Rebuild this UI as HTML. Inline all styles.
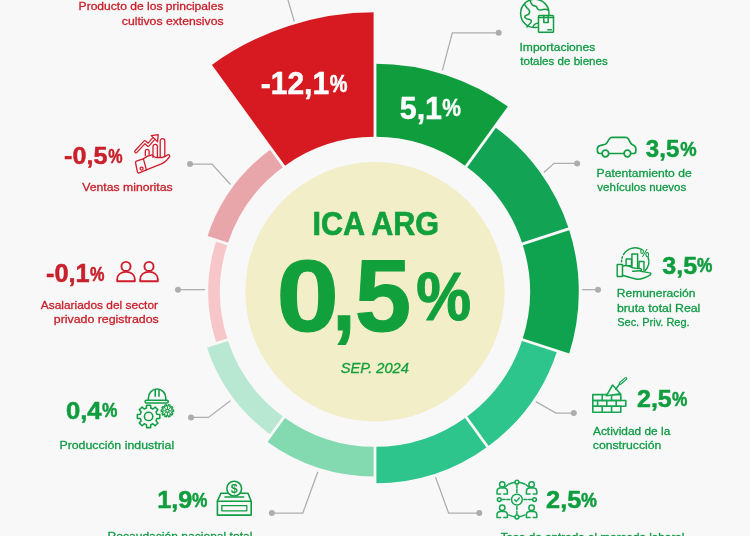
<!DOCTYPE html>
<html lang="es"><head><meta charset="utf-8"><title>ICA ARG</title>
<style>
html,body{margin:0;padding:0;background:#f8f8f8;}
body{width:750px;height:536px;overflow:hidden;}
svg{display:block;font-family:"Liberation Sans", "DejaVu Sans", sans-serif;}
</style></head><body>
<svg width="750" height="536" viewBox="0 0 750 536">
<rect width="750" height="536" fill="#f8f8f8"/>
<circle cx="375.0" cy="291.8" r="129.7" fill="#f2eec8"/>
<path d="M375.00 136.80L375.00 63.80A228 228 0 0 1 509.02 107.34L466.11 166.40A155.0 155.0 0 0 0 375.00 136.80Z" fill="#0f9d3e"/>
<path d="M466.11 166.40L494.79 126.92A203.8 203.8 0 0 1 568.83 228.82L522.41 243.90A155.0 155.0 0 0 0 466.11 166.40Z" fill="#12a454"/>
<path d="M522.41 243.90L568.83 228.82A203.8 203.8 0 0 1 568.83 354.78L522.41 339.70A155.0 155.0 0 0 0 522.41 243.90Z" fill="#0fa24f"/>
<path d="M522.41 339.70L557.13 350.98A191.5 191.5 0 0 1 487.56 446.73L466.11 417.20A155.0 155.0 0 0 0 522.41 339.70Z" fill="#2dc58b"/>
<path d="M466.11 417.20L487.56 446.73A191.5 191.5 0 0 1 375.00 483.30L375.00 446.80A155.0 155.0 0 0 0 466.11 417.20Z" fill="#2dc58b"/>
<path d="M375.00 446.80L375.00 476.40A184.6 184.6 0 0 1 266.49 441.14L283.89 417.20A155.0 155.0 0 0 0 375.00 446.80Z" fill="#83d9b0"/>
<path d="M283.89 417.20L270.96 435.00A177 177 0 0 1 206.66 346.50L227.59 339.70A155.0 155.0 0 0 0 283.89 417.20Z" fill="#b8e8d2"/>
<path d="M227.59 339.70L216.46 343.31A166.7 166.7 0 0 1 216.46 240.29L227.59 243.90A155.0 155.0 0 0 0 227.59 339.70Z" fill="#f7c6c9"/>
<path d="M227.59 243.90L207.14 237.26A176.5 176.5 0 0 1 271.26 149.01L283.89 166.40A155.0 155.0 0 0 0 227.59 243.90Z" fill="#e8a6aa"/>
<path d="M283.89 166.40L210.71 65.68A279.5 279.5 0 0 1 375.00 12.30L375.00 136.80A155.0 155.0 0 0 0 283.89 166.40Z" fill="#d71a21"/>
<line x1="375.00" y1="139.80" x2="375.00" y2="1.80" stroke="#f8f8f8" stroke-width="2.8"/>
<line x1="464.34" y1="168.83" x2="545.46" y2="57.19" stroke="#f8f8f8" stroke-width="2.8"/>
<line x1="519.56" y1="244.83" x2="650.81" y2="202.19" stroke="#f8f8f8" stroke-width="2.8"/>
<line x1="519.56" y1="338.77" x2="650.81" y2="381.41" stroke="#f8f8f8" stroke-width="2.8"/>
<line x1="464.34" y1="414.77" x2="545.46" y2="526.41" stroke="#f8f8f8" stroke-width="2.8"/>
<line x1="375.00" y1="443.80" x2="375.00" y2="581.80" stroke="#f8f8f8" stroke-width="2.8"/>
<line x1="285.66" y1="414.77" x2="204.54" y2="526.41" stroke="#f8f8f8" stroke-width="2.8"/>
<line x1="230.44" y1="338.77" x2="99.19" y2="381.41" stroke="#f8f8f8" stroke-width="2.8"/>
<line x1="230.44" y1="244.83" x2="99.19" y2="202.19" stroke="#f8f8f8" stroke-width="2.8"/>
<line x1="285.66" y1="168.83" x2="204.54" y2="57.19" stroke="#f8f8f8" stroke-width="2.8"/>
<path d="M288 0L294.3 21.5" fill="none" stroke="#adadad" stroke-width="1.25"/>
<path d="M190 164L212 164L230.5 184.5" fill="none" stroke="#adadad" stroke-width="1.25"/><circle cx="190" cy="164" r="3" fill="#adadad"/>
<path d="M178 289.7L205 289.7" fill="none" stroke="#adadad" stroke-width="1.25"/><circle cx="178" cy="289.7" r="3" fill="#adadad"/>
<path d="M191 417.4L208.4 417.4L230.4 400.8" fill="none" stroke="#adadad" stroke-width="1.25"/><circle cx="191" cy="417.4" r="3" fill="#adadad"/>
<path d="M271.9 513.1L302.8 513.1L317.8 471.7" fill="none" stroke="#adadad" stroke-width="1.25"/><circle cx="271.9" cy="513.1" r="3" fill="#adadad"/>
<path d="M498.7 32.8L452.3 32.8L442.4 70.4" fill="none" stroke="#adadad" stroke-width="1.25"/><circle cx="498.7" cy="32.8" r="3" fill="#adadad"/>
<path d="M577.1 163.4L554 163.4L543.8 172.5" fill="none" stroke="#adadad" stroke-width="1.25"/><circle cx="577.1" cy="163.4" r="3" fill="#adadad"/>
<path d="M598 289.7L582 289.7" fill="none" stroke="#adadad" stroke-width="1.25"/><circle cx="598" cy="289.7" r="3" fill="#adadad"/>
<path d="M573.8 413L556 413L535.8 401.6" fill="none" stroke="#adadad" stroke-width="1.25"/><circle cx="573.8" cy="413" r="3" fill="#adadad"/>
<path d="M479.3 513.1L448.6 513.1L435.6 477.3" fill="none" stroke="#adadad" stroke-width="1.25"/><circle cx="479.3" cy="513.1" r="3" fill="#adadad"/>
<text transform="translate(78.60 10.20) scale(1.0412 1)" font-size="11.60" font-weight="normal" font-style="normal" fill="#c9202b" stroke="#c9202b" stroke-width="0.3" stroke-linejoin="round">Producto de los principales</text>
<text transform="translate(121.78 25.20) scale(1.0531 1)" font-size="11.60" font-weight="normal" font-style="normal" fill="#c9202b" stroke="#c9202b" stroke-width="0.3" stroke-linejoin="round">cultivos extensivos</text>
<text transform="translate(82.24 190.50) scale(1.0552 1)" font-size="11.60" font-weight="normal" font-style="normal" fill="#c9202b" stroke="#c9202b" stroke-width="0.3" stroke-linejoin="round">Ventas minoritas</text>
<text transform="translate(40.77 308.60) scale(1.0289 1)" font-size="11.60" font-weight="normal" font-style="normal" fill="#c9202b" stroke="#c9202b" stroke-width="0.3" stroke-linejoin="round">Asalariados del sector</text>
<text transform="translate(53.80 323.00) scale(1.0646 1)" font-size="11.60" font-weight="normal" font-style="normal" fill="#c9202b" stroke="#c9202b" stroke-width="0.3" stroke-linejoin="round">privado registrados</text>
<text transform="translate(59.38 449.30) scale(1.0667 1)" font-size="11.60" font-weight="normal" font-style="normal" fill="#109b45" stroke="#109b45" stroke-width="0.3" stroke-linejoin="round">Producción industrial</text>
<text transform="translate(107.50 540.20) scale(1.0416 1)" font-size="11.60" font-weight="normal" font-style="normal" fill="#109b45" stroke="#109b45" stroke-width="0.3" stroke-linejoin="round">Recaudación nacional total</text>
<text transform="translate(519.48 50.80) scale(1.0425 1)" font-size="11.60" font-weight="normal" font-style="normal" fill="#109b45" stroke="#109b45" stroke-width="0.3" stroke-linejoin="round">Importaciones</text>
<text transform="translate(520.23 65.10) scale(0.9995 1)" font-size="11.60" font-weight="normal" font-style="normal" fill="#109b45" stroke="#109b45" stroke-width="0.3" stroke-linejoin="round">totales de bienes</text>
<text transform="translate(596.60 176.90) scale(1.0462 1)" font-size="11.60" font-weight="normal" font-style="normal" fill="#109b45" stroke="#109b45" stroke-width="0.3" stroke-linejoin="round">Patentamiento de</text>
<text transform="translate(597.34 191.40) scale(0.9936 1)" font-size="11.60" font-weight="normal" font-style="normal" fill="#109b45" stroke="#109b45" stroke-width="0.3" stroke-linejoin="round">vehículos nuevos</text>
<text transform="translate(616.70 297.30) scale(1.0445 1)" font-size="11.60" font-weight="normal" font-style="normal" fill="#109b45" stroke="#109b45" stroke-width="0.3" stroke-linejoin="round">Remuneración</text>
<text transform="translate(616.90 311.60) scale(1.0617 1)" font-size="11.60" font-weight="normal" font-style="normal" fill="#109b45" stroke="#109b45" stroke-width="0.3" stroke-linejoin="round">bruta total Real</text>
<text transform="translate(617.21 325.70) scale(0.9475 1)" font-size="11.60" font-weight="normal" font-style="normal" fill="#109b45" stroke="#109b45" stroke-width="0.3" stroke-linejoin="round">Sec. Priv. Reg.</text>
<text transform="translate(592.97 435.30) scale(1.0252 1)" font-size="11.60" font-weight="normal" font-style="normal" fill="#109b45" stroke="#109b45" stroke-width="0.3" stroke-linejoin="round">Actividad de la</text>
<text transform="translate(592.78 449.40) scale(1.0539 1)" font-size="11.60" font-weight="normal" font-style="normal" fill="#109b45" stroke="#109b45" stroke-width="0.3" stroke-linejoin="round">construcción</text>
<text transform="translate(500.64 540.50) scale(1.0115 1)" font-size="11.60" font-weight="normal" font-style="normal" fill="#109b45" stroke="#109b45" stroke-width="0.3" stroke-linejoin="round">Tasa de entrada al mercado laboral</text>
<text font-weight="bold" font-style="normal" fill="#c9202b" stroke="#c9202b" stroke-width="0.5" stroke-linejoin="round"><tspan x="64.09" y="164.00" font-size="24.47" textLength="43.31" lengthAdjust="spacingAndGlyphs">-0,5</tspan><tspan x="108.20" y="162.50" font-size="20.36" textLength="14.33" lengthAdjust="spacingAndGlyphs">%</tspan></text>
<text font-weight="bold" font-style="normal" fill="#c9202b" stroke="#c9202b" stroke-width="0.5" stroke-linejoin="round"><tspan x="45.98" y="282.40" font-size="24.89" textLength="43.73" lengthAdjust="spacingAndGlyphs">-0,1</tspan><tspan x="89.99" y="280.89" font-size="20.78" textLength="14.44" lengthAdjust="spacingAndGlyphs">%</tspan></text>
<text font-weight="bold" font-style="normal" fill="#0f9d3e" stroke="#0f9d3e" stroke-width="0.5" stroke-linejoin="round"><tspan x="65.97" y="418.60" font-size="23.90" textLength="35.66" lengthAdjust="spacingAndGlyphs">0,4</tspan><tspan x="102.07" y="417.10" font-size="19.79" textLength="15.39" lengthAdjust="spacingAndGlyphs">%</tspan></text>
<text font-weight="bold" font-style="normal" fill="#0f9d3e" stroke="#0f9d3e" stroke-width="0.5" stroke-linejoin="round"><tspan x="157.32" y="508.20" font-size="24.04" textLength="35.06" lengthAdjust="spacingAndGlyphs">1,9</tspan><tspan x="192.07" y="506.70" font-size="19.93" textLength="15.39" lengthAdjust="spacingAndGlyphs">%</tspan></text>
<text font-weight="bold" font-style="normal" fill="#0f9d3e" stroke="#0f9d3e" stroke-width="0.5" stroke-linejoin="round"><tspan x="645.86" y="157.20" font-size="24.32" textLength="33.41" lengthAdjust="spacingAndGlyphs">3,5</tspan><tspan x="680.14" y="155.70" font-size="20.21" textLength="16.35" lengthAdjust="spacingAndGlyphs">%</tspan></text>
<text font-weight="bold" font-style="normal" fill="#0f9d3e" stroke="#0f9d3e" stroke-width="0.5" stroke-linejoin="round"><tspan x="662.34" y="273.60" font-size="24.47" textLength="34.86" lengthAdjust="spacingAndGlyphs">3,5</tspan><tspan x="697.07" y="272.10" font-size="20.36" textLength="15.39" lengthAdjust="spacingAndGlyphs">%</tspan></text>
<text font-weight="bold" font-style="normal" fill="#0f9d3e" stroke="#0f9d3e" stroke-width="0.5" stroke-linejoin="round"><tspan x="637.02" y="407.40" font-size="24.18" textLength="34.77" lengthAdjust="spacingAndGlyphs">2,5</tspan><tspan x="672.07" y="405.90" font-size="20.07" textLength="15.39" lengthAdjust="spacingAndGlyphs">%</tspan></text>
<text font-weight="bold" font-style="normal" fill="#0f9d3e" stroke="#0f9d3e" stroke-width="0.5" stroke-linejoin="round"><tspan x="546.11" y="508.30" font-size="24.61" textLength="35.19" lengthAdjust="spacingAndGlyphs">2,5</tspan><tspan x="581.05" y="506.80" font-size="20.50" textLength="15.93" lengthAdjust="spacingAndGlyphs">%</tspan></text>
<text font-weight="bold" font-style="normal" fill="#ffffff" stroke="#ffffff" stroke-width="0.55" stroke-linejoin="round"><tspan x="260.70" y="94.00" font-size="31.01" textLength="68.48" lengthAdjust="spacingAndGlyphs">-12,1</tspan><tspan x="329.80" y="91.57" font-size="24.34" textLength="17.73" lengthAdjust="spacingAndGlyphs">%</tspan></text>
<text font-weight="bold" font-style="normal" fill="#ffffff" stroke="#ffffff" stroke-width="0.45" stroke-linejoin="round"><tspan x="399.71" y="119.00" font-size="31.29" textLength="42.33" lengthAdjust="spacingAndGlyphs">5,1</tspan><tspan x="442.27" y="116.37" font-size="24.34" textLength="18.69" lengthAdjust="spacingAndGlyphs">%</tspan></text>
<text transform="translate(312.44 235.20) scale(0.9332 1)" font-size="32.73" font-weight="bold" font-style="normal" fill="#12a03c" stroke="#12a03c" stroke-width="0.7" stroke-linejoin="round">ICA ARG</text>
<text font-weight="bold" font-style="normal" fill="#12a03c" stroke="#12a03c" stroke-width="1.15" stroke-linejoin="round"><tspan x="276.41" y="330.59" font-size="101.34" textLength="62.41" lengthAdjust="spacingAndGlyphs">0</tspan><tspan x="332.55" y="330.16" font-size="94.43" textLength="22.82" lengthAdjust="spacingAndGlyphs">,</tspan><tspan x="354.70" y="330.58" font-size="101.65" textLength="56.40" lengthAdjust="spacingAndGlyphs">5</tspan><tspan x="416.26" y="320.09" font-size="68.33" textLength="54.78" lengthAdjust="spacingAndGlyphs">%</tspan></text>
<text transform="translate(340.80 372.60) scale(0.9766 1)" font-size="15.00" font-weight="normal" font-style="italic" fill="#12a03c" stroke="#12a03c" stroke-width="0.3" stroke-linejoin="round">SEP. 2024</text>
<g fill="none" stroke="#cf1d2b" stroke-width="1.3" stroke-linejoin="round" stroke-linecap="round">
<path d="M136 151.6L144.8 142L148.2 145L153.6 138.8" stroke-width="3.7"/>
<path d="M136 151.6L144.8 142L148.2 145L153.6 138.8" stroke="#f8f8f8" stroke-width="1.3"/>
<path d="M151.2 135.6L158.2 134.6L157.6 141.8Z" fill="#f8f8f8"/>
<path d="M145.3 155.6V151.2a1.9 1.9 0 0 1 3.8 0V154.6"/>
<path d="M153 157.4V146.6a2.2 2.2 0 0 1 4.4 0V157.4"/>
<path d="M160.2 157.4V141a2.3 2.3 0 0 1 4.6 0V156.6"/>
<path d="M136.3 161.2L143.4 158.8L146.4 169.9L139.3 172.9Q137.8 173.3 137.4 171.8L135.6 163Q135.4 161.6 136.3 161.2Z"/>
<circle cx="141.6" cy="168.6" r="1.5"/>
<path d="M143.4 158.8Q147.5 155.2 152.4 154.8Q153.8 157.4 156 157.5L162 157.5Q165.6 156.6 167.8 154.8Q170 154.2 169.6 156.6Q166 162 160.8 164.2L146.4 169.9"/>
</g>
<g fill="none" stroke="#cf1d2b" stroke-width="1.9" stroke-linejoin="round">
<circle cx="126.0" cy="266.4" r="4.55"/>
<path d="M117.2 281.2V279.6C117.2 274.6 121.0 271.9 126.0 271.9C131.0 271.9 134.8 274.6 134.8 279.6V281.2Z"/>
<circle cx="149.0" cy="266.4" r="4.55"/>
<path d="M140.2 281.2V279.6C140.2 274.6 144.0 271.9 149.0 271.9C154.0 271.9 157.8 274.6 157.8 279.6V281.2Z"/>
</g>
<g fill="none" stroke="#129d43" stroke-width="1.55" stroke-linejoin="round" stroke-linecap="round">
<path d="M148.4 400.2V398A8.7 9 0 0 1 165.8 398V400.2"/>
<rect x="145.2" y="400.2" width="23" height="2.8" rx="1"/>
<path d="M155.2 389.6V396.2M159 389.6V396.2"/>
<path d="M156.92 414.23L159.83 414.43L159.83 418.37L156.92 418.57L156.02 420.75L157.93 422.95L155.15 425.73L152.95 423.82L150.77 424.72L150.57 427.63L146.63 427.63L146.43 424.72L144.25 423.82L142.05 425.73L139.27 422.95L141.18 420.75L140.28 418.57L137.37 418.37L137.37 414.43L140.28 414.23L141.18 412.05L139.27 409.85L142.05 407.07L144.25 408.98L146.43 408.08L146.63 405.17L150.57 405.17L150.77 408.08L152.95 408.98L155.15 407.07L157.93 409.85L156.02 412.05Z" fill="#f8f8f8"/>
<circle cx="148.6" cy="416.4" r="4.2"/>
<path d="M172.01 409.88L173.54 409.97L173.54 411.63L172.01 411.72L171.67 412.77L172.86 413.74L171.89 415.08L170.59 414.25L169.70 414.90L170.08 416.39L168.51 416.90L167.95 415.47L166.85 415.47L166.29 416.90L164.72 416.39L165.10 414.90L164.21 414.25L162.91 415.08L161.94 413.74L163.13 412.77L162.79 411.72L161.26 411.63L161.26 409.97L162.79 409.88L163.13 408.83L161.94 407.86L162.91 406.52L164.21 407.35L165.10 406.70L164.72 405.21L166.29 404.70L166.85 406.13L167.95 406.13L168.51 404.70L170.08 405.21L169.70 406.70L170.59 407.35L171.89 406.52L172.86 407.86L171.67 408.83Z" fill="#f8f8f8" stroke-width="1.3"/>
<circle cx="167.4" cy="410.8" r="1.6" stroke-width="1.1"/>
<path d="M169.40 410.80L171.40 410.80M168.81 412.21L170.23 413.63M167.40 412.80L167.40 414.80M165.99 412.21L164.57 413.63M165.40 410.80L163.40 410.80M165.99 409.39L164.57 407.97M167.40 408.80L167.40 406.80M168.81 409.39L170.23 407.97" stroke-width="1.0"/>
</g>
<g fill="none" stroke="#129d43" stroke-width="1.6" stroke-linejoin="round" stroke-linecap="round">
<path d="M217.4 501.2L221 493.2H248L251.2 501.2"/>
<rect x="217.4" y="501.2" width="33.8" height="13.9"/>
<rect x="221.8" y="505.6" width="25" height="5.2" stroke-width="1.3"/>
<circle cx="234.2" cy="488.6" r="7.4" fill="#f8f8f8"/>
<path d="M225 497H243.6"/>
</g>
<text x="234.2" y="493" font-size="12.5" font-weight="bold" fill="#129d43" text-anchor="middle">$</text>
<g fill="none" stroke="#129d43" stroke-width="1.5" stroke-linejoin="round" stroke-linecap="round">
<circle cx="534.8" cy="13.4" r="14.2"/>
<path d="M530 0Q530.6 4 533.6 5.8Q536.6 5.6 537.4 8.6Q538.6 10.6 541.6 9.8Q545.6 8.6 548.6 10.4"/>
<path d="M524.6 4.4Q526.4 8 529 9.8Q530.6 12.4 528.4 14.4Q524.4 15.4 524.8 17.4Q526 19.2 529.6 19.4Q532.6 20.4 530.6 23Q528.4 24.6 527 27"/>
<path d="M533 27.4Q533.4 23.6 538 23.2"/>
<rect x="538.5" y="15.4" width="15" height="16.9" rx="0.8" fill="#f8f8f8"/>
<path d="M538.5 17.6H553.5"/>
<path d="M543.8 15.4V22.4H548.2V15.4"/>
<path d="M547.8 29.8H551.4"/>
</g>
<g fill="none" stroke="#129d43" stroke-width="1.7" stroke-linejoin="round" stroke-linecap="round">
<path d="M602 153.5H599.6Q597.4 153.3 597.4 150.8V148.6Q597.5 146.2 600 145.6L605.2 144.2Q606.4 143.8 607 142.6L609.6 138.6Q610.4 137.3 612 137.3H625.6Q627.4 137.3 628.2 138.7L630.8 143.2Q631.4 144.2 632.6 144.8Q635.8 146.2 635.8 148.6V151.2Q635.8 153.5 633.6 153.5H631"/>
<path d="M609 153.5H623.8"/>
<circle cx="605.4" cy="153.5" r="3.3"/>
<circle cx="627.4" cy="153.5" r="3.3"/>
</g>
<g fill="none" stroke="#129d43" stroke-width="1.45" stroke-linejoin="round" stroke-linecap="round">
<path d="M623.42 254.60A13.6 13.6 0 0 1 641.58 249.39"/>
<path d="M647.98 256.75A13.6 13.6 0 0 1 645.31 270.50"/>
<path d="M621.61 261.87A13.6 13.6 0 0 1 622.87 255.65" stroke-dasharray="1.6 2"/>
<rect x="626.1" y="259" width="5.4" height="6.6"/>
<path d="M631.9 267V253.9H637.6V268.4"/>
<path d="M639 268.6V261.5H644V271.6"/>
<rect x="617.2" y="264.4" width="5.3" height="12" />
<path d="M622.5 266.2Q626.4 264.6 629.6 266.4Q632.2 268.2 636 268.4L640.6 268.6Q642.4 269.6 640.6 270.8L632.6 271.2"/>
<path d="M640.8 271.4L648.6 272.6Q651.6 272.6 650.6 274.6Q644 279.2 637 279.2Q630 277.6 622.5 275.2"/>
</g>
<text x="644.6" y="256.6" font-size="10.5" font-weight="bold" fill="#129d43" text-anchor="middle">%</text>
<g fill="none" stroke="#17a552" stroke-width="1.6" stroke-linejoin="round" stroke-linecap="round">
<rect x="592.8" y="394.6" width="28" height="5.9"/>
<rect x="592.8" y="400.5" width="33" height="5.8"/>
<rect x="592.8" y="406.3" width="28" height="6"/>
<path d="M602.2 394.6V400.5M611.6 394.6V400.5M597.6 400.5V406.3M606.8 400.5V406.3M616.2 400.5V406.3M602.2 406.3V412.3M611.6 406.3V412.3"/>
<path d="M612.6 385L606.4 395.8L620.4 393.8Z" fill="#f8f8f8"/>
<path d="M615.6 389.2L619.6 384"/>
<path d="M620.4 383.2L625.8 378.6" stroke-width="3.2"/>
<path d="M620.4 383.2L625.8 378.6" stroke="#f8f8f8" stroke-width="1"/>
</g>
<g fill="none" stroke="#17a552" stroke-width="1.5" stroke-linejoin="round" stroke-linecap="round">
<path d="M526.12 484.84A17.4 17.4 0 0 1 531.66 490.38M0 0"/>
<path d="M502.14 490.38A17.4 17.4 0 0 1 507.68 484.84"/>
<path d="M519.32 482.37A17.4 17.4 0 1 1 514.48 482.37" stroke="none"/>
<path d="M518.72 482.30A17.4 17.4 0 0 1 525.07 484.24"/>
<path d="M508.73 484.24A17.4 17.4 0 0 1 515.08 482.30"/>
<path d="M525.07 514.96A17.4 17.4 0 0 1 518.72 516.90"/>
<path d="M515.08 516.90A17.4 17.4 0 0 1 508.73 514.96"/>
<circle cx="516.9" cy="499.6" r="5.4"/>
<path d="M514.6999999999999 499.8L516.3 501.40000000000003L519.3 498.0" stroke-width="1.4"/>
<circle cx="516.9" cy="482.20000000000005" r="1.9" fill="#f8f8f8"/>
<circle cx="516.9" cy="517.0" r="1.9" fill="#f8f8f8"/>
<circle cx="499.29999999999995" cy="499.6" r="1.9" fill="#f8f8f8"/>
<circle cx="534.5" cy="499.6" r="1.9" fill="#f8f8f8"/>
<path d="M516.9 485.0V492.6M516.9 506.6V514.2M502.09999999999997 499.6H509.9M523.9 499.6H531.6999999999999" stroke-dasharray="3 1.6"/>
<circle cx="502.2" cy="484.4" r="2.7" fill="#f8f8f8"/>
<path d="M497.0 494.0V491.4Q497.0 488.4 499.8 488.0H504.59999999999997Q507.4 488.4 507.4 491.4V494.0H503.8M500.59999999999997 494.0H497.0" fill="#f8f8f8"/>
<circle cx="531.6" cy="484.4" r="2.7" fill="#f8f8f8"/>
<path d="M526.4 494.0V491.4Q526.4 488.4 529.2 488.0H534.0Q536.8000000000001 488.4 536.8000000000001 491.4V494.0H533.2M530.0 494.0H526.4" fill="#f8f8f8"/>
<circle cx="502.2" cy="507.8" r="2.7" fill="#f8f8f8"/>
<path d="M497.0 517.4V514.8Q497.0 511.8 499.8 511.40000000000003H504.59999999999997Q507.4 511.8 507.4 514.8V517.4H503.8M500.59999999999997 517.4H497.0" fill="#f8f8f8"/>
<circle cx="531.6" cy="507.8" r="2.7" fill="#f8f8f8"/>
<path d="M526.4 517.4V514.8Q526.4 511.8 529.2 511.40000000000003H534.0Q536.8000000000001 511.8 536.8000000000001 514.8V517.4H533.2M530.0 517.4H526.4" fill="#f8f8f8"/>
</g>
</svg>
</body></html>
